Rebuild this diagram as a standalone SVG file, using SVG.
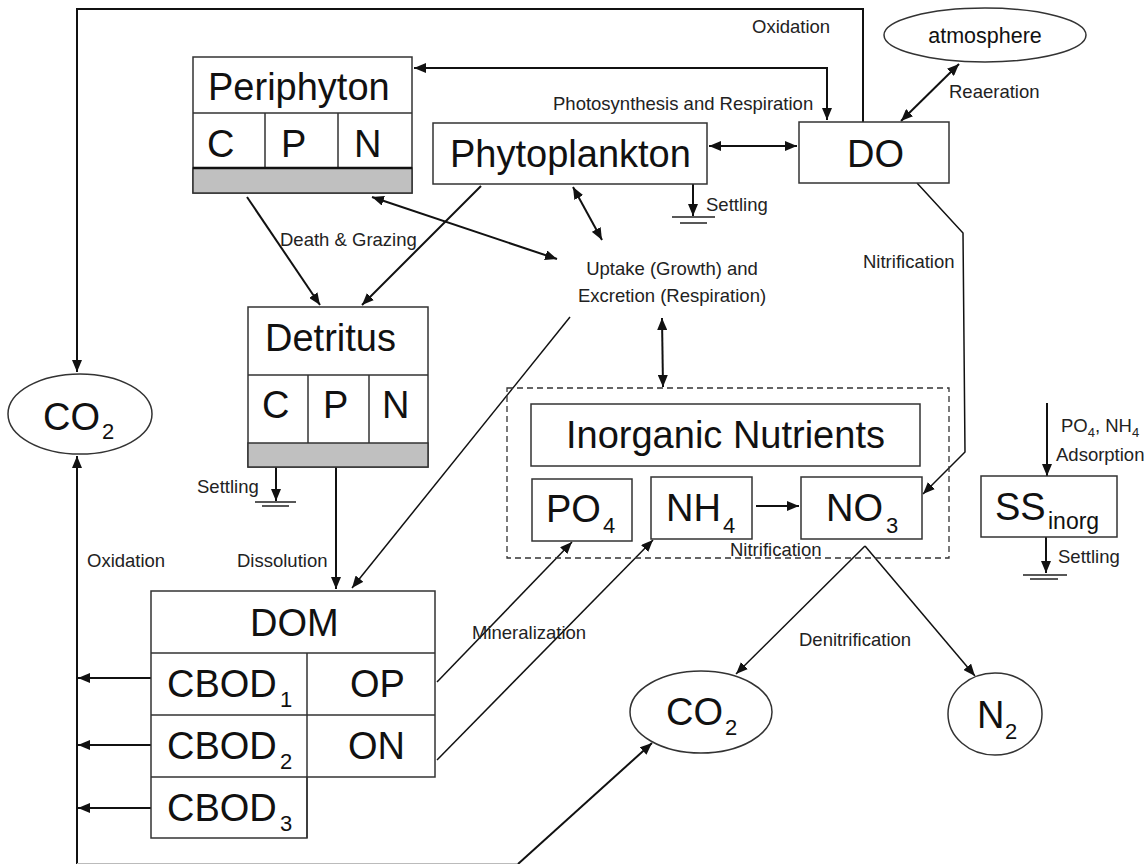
<svg xmlns="http://www.w3.org/2000/svg" width="1145" height="864" viewBox="0 0 1145 864">
<defs>
<style>
.box{fill:#fff;stroke:#333;stroke-width:1.5}
.band{fill:#c0c0c0;stroke:#333;stroke-width:1.5}
.big{font-family:"Liberation Sans",Arial,sans-serif;font-size:38px;fill:#111}
.sub{font-size:22px}
.lbl{font-family:"Liberation Sans",Arial,sans-serif;font-size:18.5px;fill:#222}
.ssub{font-size:13px}
.c{fill:none;stroke:#111;stroke-width:2}
.t{stroke-width:1.5}
.g{fill:none;stroke:#222;stroke-width:1.5}
</style>
<marker id="ah" viewBox="0 0 12 10" refX="12" refY="5" markerWidth="12" markerHeight="10" markerUnits="userSpaceOnUse" orient="auto-start-reverse">
<path d="M0,0 L12,5 L0,10 Z" fill="#111"/>
</marker>
</defs>
<rect width="1145" height="864" fill="#fff"/>

<g id="connectors">
<path class="c" d="M863,122 V9 H77 V372" marker-end="url(#ah)"/>
<path class="c" d="M827,120 V68 H414" marker-start="url(#ah)" marker-end="url(#ah)"/>
<path class="c" d="M709,146 H797" marker-start="url(#ah)" marker-end="url(#ah)"/>
<path class="c" d="M901,121 L959,64" marker-start="url(#ah)" marker-end="url(#ah)"/>
<path class="c" d="M693,184 V216" marker-end="url(#ah)"/>
<path class="g" d="M672,217 H715 M680,223 H707"/>
<path class="c t" d="M917,183 L963,233 L965,452 L923,494" marker-end="url(#ah)"/>
<path class="c" d="M372,197 L557,259" marker-start="url(#ah)" marker-end="url(#ah)"/>
<path class="c" d="M573,187 L602,240" marker-start="url(#ah)" marker-end="url(#ah)"/>
<path class="c" d="M247,197 L320,305" marker-end="url(#ah)"/>
<path class="c" d="M481,186 L362,305" marker-end="url(#ah)"/>
<path class="c t" d="M570,317 L352,588" marker-end="url(#ah)"/>
<path class="c" d="M662,318 L663,387" marker-start="url(#ah)" marker-end="url(#ah)"/>
<path class="c" d="M276,467 V501" marker-end="url(#ah)"/>
<path class="g" d="M255,502 H296 M262,506 H289"/>
<path class="c" d="M336,467 V589" marker-end="url(#ah)"/>
<path class="c" d="M151,678 H78" marker-end="url(#ah)"/>
<path class="c" d="M151,745 H78" marker-end="url(#ah)"/>
<path class="c" d="M151,808 H78" marker-end="url(#ah)"/>
<path class="c" d="M77,864 V456" marker-end="url(#ah)"/>
<path fill="none" stroke="#bbb" stroke-width="1" d="M77,863.5 H519"/>
<path class="c" d="M518,864 L652,743" marker-end="url(#ah)"/>
<path class="c t" d="M437,682 L572,542" marker-end="url(#ah)"/>
<path class="c t" d="M437,760 L653,540" marker-end="url(#ah)"/>
<path class="c" d="M756,506 H799" marker-end="url(#ah)"/>
<path class="c t" d="M865,546 L736,674" marker-end="url(#ah)"/>
<path class="c t" d="M865,546 L975,676" marker-end="url(#ah)"/>
<path class="c" d="M1047,403 V476" marker-end="url(#ah)"/>
<path class="c" d="M1046,537 V573" marker-end="url(#ah)"/>
<path class="g" d="M1023,575 H1067 M1030,579 H1058"/>
</g>

<g id="labels">
<text class="lbl" x="752" y="33">Oxidation</text>
<text class="lbl" x="553" y="110">Photosynthesis and Respiration</text>
<text class="lbl" x="949" y="98">Reaeration</text>
<text class="lbl" x="706" y="211">Settling</text>
<text class="lbl" x="280" y="246">Death &amp; Grazing</text>
<text class="lbl" x="672" y="275" text-anchor="middle">Uptake (Growth) and</text>
<text class="lbl" x="672" y="302" text-anchor="middle">Excretion (Respiration)</text>
<text class="lbl" x="863" y="268">Nitrification</text>
<text class="lbl" x="197" y="493">Settling</text>
<text class="lbl" x="237" y="567">Dissolution</text>
<text class="lbl" x="87" y="567">Oxidation</text>
<text class="lbl" x="472" y="639">Mineralization</text>
<text class="lbl" x="799" y="646">Denitrification</text>
<text class="lbl" x="730" y="556">Nitrification</text>
<text class="lbl" x="1061" y="432">PO<tspan class="ssub" dy="5">4</tspan><tspan dy="-5">, NH</tspan><tspan class="ssub" dy="5">4</tspan></text>
<text class="lbl" x="1056" y="461">Adsorption</text>
<text class="lbl" x="1058" y="563">Settling</text>
</g>

<g id="periphyton">
<rect class="box" x="193" y="57" width="219" height="136"/>
<rect class="band" x="193" y="168" width="219" height="25"/>
<path fill="none" stroke="#333" stroke-width="1.5" d="M193,113 H412 M265,113 V168 M338,113 V168"/>
<path fill="none" stroke="#111" stroke-width="2.5" d="M193,168 H412"/>
<text class="big" x="208" y="100">Periphyton</text>
<text class="big" x="207" y="157">C</text>
<text class="big" x="281" y="157">P</text>
<text class="big" x="354" y="157">N</text>
</g>

<g id="phytoplankton">
<rect class="box" x="433" y="123" width="274" height="61"/>
<text class="big" x="450" y="167">Phytoplankton</text>
</g>

<g id="do">
<rect class="box" x="799" y="122" width="150" height="61"/>
<text class="big" x="847" y="167">DO</text>
</g>

<g id="atmosphere">
<ellipse class="box" cx="985" cy="35" rx="101" ry="27"/>
<text class="big" x="985" y="43" text-anchor="middle" style="font-size:21.5px">atmosphere</text>
</g>

<g id="detritus">
<rect class="box" x="248" y="307" width="180" height="160"/>
<rect class="band" x="248" y="443" width="180" height="24"/>
<path fill="none" stroke="#333" stroke-width="1.5" d="M248,375 H428 M308,375 V443 M369,375 V443"/>
<text class="big" x="265" y="351">Detritus</text>
<text class="big" x="262" y="418">C</text>
<text class="big" x="323" y="418">P</text>
<text class="big" x="382" y="418">N</text>
</g>

<g id="co2-left">
<ellipse class="box" cx="80" cy="414" rx="72" ry="40"/>
<text class="big" x="43" y="430">CO<tspan class="sub" x="102" y="439">2</tspan></text>
</g>

<g id="inorganic-nutrients">
<rect fill="none" stroke="#333" stroke-width="1.3" stroke-dasharray="6,4" x="507" y="388" width="442" height="170"/>
<rect class="box" x="531" y="404" width="389" height="62"/>
<text class="big" x="566" y="448">Inorganic Nutrients</text>
</g>

<g id="po4">
<rect class="box" x="532" y="479" width="100" height="62"/>
<text class="big" x="546" y="522">PO<tspan class="sub" x="603" y="533">4</tspan></text>
</g>

<g id="nh4">
<rect class="box" x="651" y="477" width="101" height="62"/>
<text class="big" x="666" y="521">NH<tspan class="sub" x="723" y="533">4</tspan></text>
</g>

<g id="no3">
<rect class="box" x="801" y="477" width="121" height="62"/>
<text class="big" x="826" y="521">NO<tspan class="sub" x="886" y="533">3</tspan></text>
</g>

<g id="ss-inorg">
<rect class="box" x="981" y="476" width="136" height="61"/>
<text class="big" x="995" y="520">SS<tspan class="sub" style="font-size:23px" x="1048" y="529">inorg</tspan></text>
</g>

<g id="dom">
<path class="box" d="M151,591 H435 V777 H307 V838 H151 Z"/>
<path fill="none" stroke="#333" stroke-width="1.5" d="M151,653 H435 M151,715 H435 M151,777 H307 M307,653 V838"/>
<text class="big" x="250" y="636">DOM</text>
<text class="big" x="167" y="697">CBOD<tspan class="sub" x="280" y="707">1</tspan></text>
<text class="big" x="167" y="759">CBOD<tspan class="sub" x="280" y="769">2</tspan></text>
<text class="big" x="167" y="821">CBOD<tspan class="sub" x="280" y="831">3</tspan></text>
<text class="big" x="350" y="697">OP</text>
<text class="big" x="348" y="759">ON</text>
</g>

<g id="co2-bottom">
<ellipse class="box" cx="701" cy="712" rx="71" ry="41"/>
<text class="big" x="666" y="725">CO<tspan class="sub" x="725" y="735">2</tspan></text>
</g>

<g id="n2">
<ellipse class="box" cx="995" cy="714" rx="47" ry="41"/>
<text class="big" x="977" y="728">N<tspan class="sub" x="1005" y="739">2</tspan></text>
</g>
</svg>
